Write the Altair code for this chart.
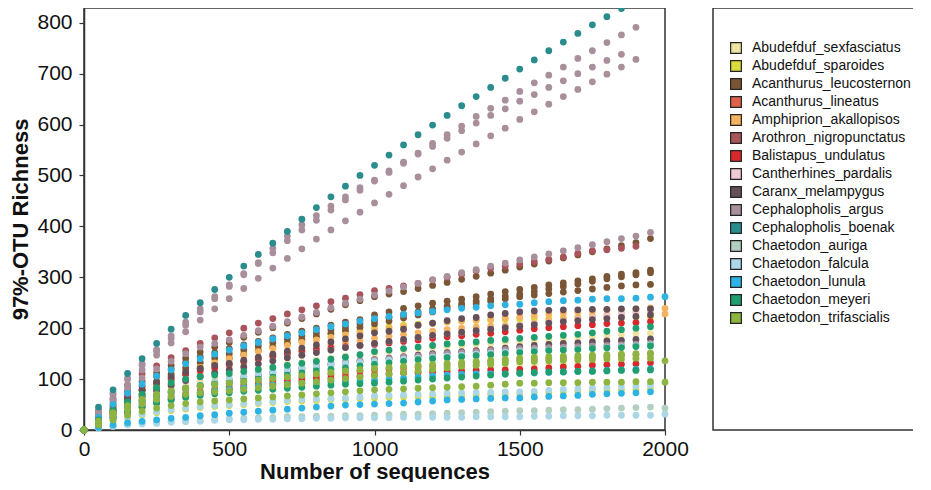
import altair as alt
import pandas as pd

species = [
    "Abudefduf_sexfasciatus", "Abudefduf_sparoides", "Acanthurus_leucosternon",
    "Acanthurus_lineatus", "Amphiprion_akallopisos", "Arothron_nigropunctatus",
    "Balistapus_undulatus", "Cantherhines_pardalis", "Caranx_melampygus",
    "Cephalopholis_argus", "Cephalopholis_boenak", "Chaetodon_auriga",
    "Chaetodon_falcula", "Chaetodon_lunula", "Chaetodon_meyeri", "Chaetodon_trifascialis",
]
colors = [
    "#EFE2A2", "#DADA3C", "#7A5636", "#E0624B", "#F5B261", "#A9535B",
    "#D9282C", "#EFCAD3", "#65505A", "#A88F9B", "#2A8C8D", "#B3CFBF",
    "#AAD6E6", "#2CB3E2", "#1F9E6F", "#8DB440",
]

depths = [0, 50, 100, 150, 200, 250, 300, 350, 400, 450, 500, 550, 600, 650, 700,
          750, 800, 850, 900, 950, 1000, 1050, 1100, 1150, 1200, 1250, 1300, 1350,
          1400, 1450, 1500, 1550, 1600, 1650, 1700, 1750, 1800, 1850, 1900, 1950, 2000]

# rarefaction curves: richness at successive depths
sexfasciatus_1 = [0, 15, 30, 44, 57, 68, 78, 87, 95, 102, 108, 114, 119, 124, 129, 133, 137, 141, 145, 148, 151, 154, 157, 160, 162, 164, 166, 168, 170, 172, 174, 175, 177, 179, 181, 183, 185, 187, 189, 190]
sexfasciatus_2 = [0, 12, 24, 35, 45, 54, 62, 69, 75, 80, 85, 89, 93, 97, 100, 103, 106, 109, 111, 113, 115, 117, 119, 121, 123, 124, 125, 126, 127, 128, 129, 130, 131, 132, 133, 134, 136, 137, 138, 140]
sparoides_1 = [0, 20, 40, 60, 78, 95, 108, 118, 127, 136, 144, 152, 160, 166, 172, 178, 183, 188, 192, 196, 200, 203, 206, 208, 210, 212, 214, 215, 216, 217, 218, 219, 219, 220, 220, 221, 221, 222, 222, 222]
sparoides_2 = [0, 8, 16, 23, 29, 34, 38, 41, 44, 46, 48, 50, 52, 54, 56, 57, 58, 60, 61, 62, 63, 64, 65, 66, 66, 67, 68, 69, 70, 71, 72, 73, 74, 75, 76, 77, 78, 79, 80, 81]
leucosternon_1 = [0, 28, 54, 76, 95, 112, 127, 141, 153, 163, 172, 182, 192, 201, 210, 219, 228, 237, 246, 254, 262, 267, 272, 278, 284, 290, 296, 302, 308, 314, 320, 326, 332, 338, 344, 350, 356, 362, 368, 376]
leucosternon_2 = [0, 22, 45, 66, 86, 105, 120, 133, 144, 152, 160, 167, 174, 181, 188, 194, 200, 206, 212, 217, 226, 232, 239, 244, 249, 253, 257, 262, 267, 272, 276, 280, 285, 289, 293, 297, 302, 306, 309, 314]
leucosternon_3 = [0, 20, 40, 60, 78, 95, 110, 122, 133, 142, 150, 158, 165, 172, 179, 185, 191, 197, 203, 209, 215, 221, 227, 232, 238, 243, 248, 253, 258, 263, 267, 272, 277, 282, 287, 292, 297, 301, 305, 309]
leucosternon_4 = [0, 18, 36, 54, 70, 85, 98, 110, 121, 131, 140, 148, 156, 163, 170, 177, 184, 190, 196, 202, 208, 214, 220, 226, 232, 238, 243, 248, 253, 258, 262, 265, 268, 271, 274, 277, 280, 283, 285, 286]
lineatus_1 = [0, 14, 27, 39, 50, 59, 66, 72, 77, 81, 85, 89, 93, 97, 100, 103, 106, 109, 112, 115, 118, 120, 122, 124, 126, 128, 130, 132, 134, 136, 138, 139, 140, 141, 142, 144, 145, 147, 148, 150]
akallopisos_1 = [0, 18, 36, 55, 72, 88, 101, 113, 123, 132, 140, 147, 154, 160, 166, 172, 177, 182, 187, 191, 195, 199, 203, 206, 209, 212, 214, 216, 218, 220, 222, 225, 228, 230, 232, 234, 236, 237, 238, 240, 239]
akallopisos_2 = [0, 16, 32, 49, 64, 78, 90, 101, 110, 118, 125, 132, 139, 145, 151, 157, 162, 167, 172, 176, 180, 184, 188, 191, 194, 197, 200, 202, 204, 205, 206, 210, 215, 218, 221, 224, 226, 229, 232, 232, 228]
nigropunctatus_1 = [0, 35, 62, 88, 110, 126, 142, 156, 170, 181, 191, 200, 210, 219, 228, 236, 244, 252, 259, 266, 274, 278, 283, 288, 295, 300, 306, 313, 318, 322, 326, 331, 335, 340, 347, 352, 354, 357, 361]
undulatus_1 = [0, 25, 48, 66, 80, 92, 102, 110, 117, 123, 129, 135, 140, 145, 150, 154, 158, 161, 164, 166, 168, 171, 174, 177, 180, 183, 185, 188, 190, 193, 196, 199, 201, 203, 205, 207, 209, 210, 211, 213]
undulatus_2 = [0, 12, 24, 35, 45, 53, 60, 66, 71, 76, 80, 84, 88, 91, 94, 97, 100, 102, 104, 106, 108, 110, 112, 113, 114, 115, 116, 117, 118, 118, 119, 120, 122, 124, 125, 127, 128, 129, 130, 132]
pardalis_1 = [0, 15, 30, 45, 59, 72, 84, 95, 104, 111, 118, 124, 130, 136, 142, 147, 152, 157, 162, 166, 170, 174, 178, 182, 186, 189, 192, 195, 199, 202, 205, 208, 211, 214, 217, 220, 224, 227, 230, 234]
melampygus_1 = [0, 20, 40, 60, 78, 93, 105, 114, 121, 127, 131, 137, 143, 149, 155, 161, 167, 173, 179, 185, 191, 194, 198, 206, 210, 215, 219, 221, 226, 229, 232, 234, 235, 236, 236, 237, 237, 238, 238, 238]
melampygus_2 = [0, 18, 36, 52, 66, 78, 88, 97, 105, 112, 118, 124, 130, 136, 142, 147, 152, 157, 162, 166, 170, 174, 178, 182, 186, 189, 192, 195, 198, 201, 204, 207, 210, 213, 215, 217, 219, 221, 223, 226]
melampygus_3 = [0, 15, 30, 44, 56, 66, 74, 81, 87, 92, 97, 102, 107, 112, 116, 120, 124, 128, 131, 135, 138, 141, 144, 147, 150, 152, 154, 156, 158, 161, 164, 166, 168, 170, 171, 173, 175, 176, 178, 179]
argus_1 = [0, 40, 72, 102, 130, 158, 185, 212, 238, 262, 285, 307, 329, 357, 381, 403, 421, 440, 458, 476, 491, 509, 526, 544, 563, 580, 597, 616, 632, 648, 665, 682, 697, 713, 730, 745, 761, 776, 791]
argus_2 = [0, 38, 69, 99, 127, 154, 180, 206, 232, 258, 282, 305, 327, 348, 372, 393, 412, 432, 452, 471, 489, 506, 524, 542, 557, 573, 588, 603, 618, 631, 646, 659, 673, 686, 700, 713, 726, 738]
argus_3 = [0, 30, 60, 88, 118, 147, 171, 193, 216, 238, 258, 278, 298, 318, 337, 356, 375, 393, 411, 428, 446, 463, 480, 497, 513, 530, 546, 562, 578, 593, 610, 625, 640, 655, 669, 684, 699, 713, 728]
argus_4 = [0, 30, 58, 82, 102, 120, 135, 150, 163, 170, 177, 186, 195, 204, 213, 222, 231, 240, 249, 257, 265, 273, 281, 288, 295, 302, 309, 315, 322, 328, 334, 340, 346, 352, 358, 364, 370, 376, 381, 388]
argus_5 = [0, 14, 28, 41, 53, 63, 72, 80, 87, 94, 100, 105, 110, 115, 119, 123, 127, 131, 134, 136, 138, 140, 143, 145, 148, 150, 152, 154, 156, 158, 160, 161, 162, 163, 164, 165, 166, 167, 168, 170]
boenak_1 = [0, 45, 79, 111, 140, 170, 198, 225, 250, 276, 300, 322, 345, 367, 390, 414, 437, 458, 479, 500, 520, 540, 560, 580, 599, 618, 637, 655, 673, 691, 709, 727, 745, 762, 779, 796, 812, 828]
auriga_1 = [0, 4, 8, 11, 13, 15, 17, 18, 19, 21, 22, 23, 24, 25, 26, 26, 27, 27, 28, 28, 29, 30, 31, 31, 32, 33, 34, 35, 36, 37, 38, 38, 39, 40, 40, 41, 42, 43, 44, 45, 43]
falcula_1 = [0, 4, 7, 10, 12, 13, 15, 16, 17, 19, 20, 20, 21, 21, 22, 22, 23, 23, 24, 24, 24, 24, 25, 25, 25, 25, 25, 26, 26, 26, 26, 27, 27, 28, 28, 28, 29, 29, 29, 29, 31]
falcula_2 = [0, 10, 18, 25, 31, 36, 40, 43, 46, 48, 50, 52, 54, 56, 58, 60, 61, 62, 63, 65, 67, 68, 69, 70, 71, 72, 73, 74, 74, 75, 75, 76, 78, 80, 81, 82, 84, 85, 86, 88]
falcula_3 = [0, 14, 28, 42, 55, 66, 75, 82, 88, 94, 100, 105, 110, 114, 118, 122, 125, 128, 131, 133, 135, 137, 139, 141, 143, 145, 147, 149, 151, 153, 155, 156, 157, 158, 159, 160, 162, 164, 165, 167]
lunula_1 = [0, 25, 50, 72, 90, 106, 118, 130, 140, 149, 157, 165, 172, 179, 185, 191, 197, 203, 208, 214, 219, 223, 227, 230, 233, 236, 239, 241, 244, 246, 247, 250, 252, 254, 255, 257, 258, 258, 259, 261, 262]
lunula_2 = [0, 5, 10, 14, 17, 20, 23, 25, 28, 30, 33, 35, 37, 39, 41, 43, 45, 47, 49, 50, 51, 52, 53, 55, 57, 59, 60, 61, 62, 63, 63, 65, 66, 67, 68, 70, 71, 72, 73, 75]
lunula_3 = [0, 12, 24, 36, 46, 55, 62, 68, 73, 77, 80, 83, 86, 88, 90, 92, 94, 95, 96, 97, 98, 100, 102, 104, 106, 108, 109, 110, 110, 110, 111, 112, 113, 114, 115, 116, 117, 118, 119, 120]
meyeri_1 = [0, 20, 38, 55, 70, 83, 93, 100, 105, 108, 111, 115, 119, 123, 127, 131, 135, 139, 143, 148, 154, 157, 160, 163, 166, 169, 171, 173, 176, 178, 180, 182, 184, 186, 188, 191, 194, 197, 200, 203]
meyeri_2 = [0, 12, 24, 35, 45, 53, 59, 64, 68, 71, 73, 76, 78, 80, 82, 84, 86, 88, 90, 91, 92, 94, 96, 98, 100, 102, 104, 106, 108, 110, 112, 113, 114, 114, 115, 115, 116, 117, 117, 118]
meyeri_3 = [0, 16, 32, 46, 58, 68, 76, 82, 87, 90, 92, 96, 100, 104, 108, 112, 116, 119, 122, 126, 129, 132, 135, 138, 140, 142, 144, 146, 148, 150, 152, 154, 156, 157, 158, 160, 161, 162, 164, 165]
trifascialis_1 = [0, 14, 28, 40, 51, 60, 66, 70, 73, 75, 77, 80, 83, 86, 89, 92, 95, 98, 101, 104, 107, 110, 113, 116, 119, 122, 125, 127, 129, 131, 134, 135, 136, 137, 138, 139, 140, 140, 141, 141, 136]
trifascialis_2 = [0, 10, 20, 29, 37, 43, 48, 52, 55, 57, 59, 61, 63, 65, 67, 69, 71, 73, 75, 77, 79, 80, 81, 82, 83, 84, 85, 86, 88, 90, 92, 92, 93, 93, 93, 94, 94, 94, 95, 95, 94]
trifascialis_3 = [0, 18, 34, 48, 60, 70, 77, 82, 86, 89, 92, 95, 98, 101, 104, 107, 110, 113, 116, 119, 121, 123, 125, 127, 129, 131, 133, 135, 137, 139, 141, 143, 144, 145, 146, 147, 148, 149, 150, 151]

curves = [
    ("Abudefduf_sexfasciatus", sexfasciatus_1), ("Abudefduf_sexfasciatus", sexfasciatus_2),
    ("Abudefduf_sparoides", sparoides_1), ("Abudefduf_sparoides", sparoides_2),
    ("Acanthurus_leucosternon", leucosternon_1), ("Acanthurus_leucosternon", leucosternon_2),
    ("Acanthurus_leucosternon", leucosternon_3), ("Acanthurus_leucosternon", leucosternon_4),
    ("Acanthurus_lineatus", lineatus_1),
    ("Amphiprion_akallopisos", akallopisos_1), ("Amphiprion_akallopisos", akallopisos_2),
    ("Arothron_nigropunctatus", nigropunctatus_1),
    ("Balistapus_undulatus", undulatus_1), ("Balistapus_undulatus", undulatus_2),
    ("Cantherhines_pardalis", pardalis_1),
    ("Caranx_melampygus", melampygus_1), ("Caranx_melampygus", melampygus_2),
    ("Caranx_melampygus", melampygus_3),
    ("Cephalopholis_argus", argus_1), ("Cephalopholis_argus", argus_2),
    ("Cephalopholis_argus", argus_3), ("Cephalopholis_argus", argus_4),
    ("Cephalopholis_argus", argus_5),
    ("Cephalopholis_boenak", boenak_1),
    ("Chaetodon_auriga", auriga_1),
    ("Chaetodon_falcula", falcula_1), ("Chaetodon_falcula", falcula_2),
    ("Chaetodon_falcula", falcula_3),
    ("Chaetodon_lunula", lunula_1), ("Chaetodon_lunula", lunula_2), ("Chaetodon_lunula", lunula_3),
    ("Chaetodon_meyeri", meyeri_1), ("Chaetodon_meyeri", meyeri_2), ("Chaetodon_meyeri", meyeri_3),
    ("Chaetodon_trifascialis", trifascialis_1), ("Chaetodon_trifascialis", trifascialis_2),
    ("Chaetodon_trifascialis", trifascialis_3),
]

rows = []
for cid, (sp, vals) in enumerate(curves):
    for d, v in zip(depths, vals):
        rows.append({"species": sp, "curve": cid, "depth": d, "richness": v})
df = pd.DataFrame(rows)

FONT = "Liberation Sans"

points = alt.Chart(df).mark_point(filled=True, size=46, opacity=1).encode(
    x=alt.X("depth:Q", scale=alt.Scale(domain=[0, 2000], nice=False),
            axis=alt.Axis(values=[0, 500, 1000, 1500, 2000], format="d",
                          title="Number of sequences", labelFlush=False,
                          grid=False, labelPadding=3, titlePadding=2)),
    y=alt.Y("richness:Q", scale=alt.Scale(domain=[0, 829], nice=False),
            axis=alt.Axis(values=[0, 100, 200, 300, 400, 500, 600, 700, 800], format="d",
                          labelFlush=False, title="97%-OTU Richness", grid=False,
                          labelPadding=7, titlePadding=4)),
    color=alt.Color("species:N", title=None,
                    scale=alt.Scale(domain=species, range=colors),
                    legend=alt.Legend(orient="none", legendX=645, legendY=33,
                                      symbolType="square", symbolSize=115,
                                      symbolStrokeColor="#222", symbolStrokeWidth=1.2,
                                      symbolOpacity=1, labelFont=FONT, labelFontSize=14,
                                      labelColor="#111", labelOffset=9, rowPadding=2,
                                      padding=0, labelLimit=300)),
)

box = alt.Chart(pd.DataFrame({"k": [0]})).mark_rect(
    filled=False, stroke="#333", strokeWidth=1.5, clip=False
).encode(x=alt.value(629), x2=alt.value(1000), y=alt.value(0), y2=alt.value(422))

chart = alt.layer(box, points).properties(
    width=581, height=422,
    padding={"left": 76, "top": 0, "right": 248, "bottom": 52},
    autosize=alt.AutoSizeParams(type="none"),
).configure_view(
    stroke="#333", strokeWidth=1.5
).configure_axis(
    domainColor="#333", domainWidth=1.5, tickColor="#333", tickSize=5, tickWidth=1.2,
    labelFont=FONT, labelFontSize=21, labelColor="#111",
    titleFont=FONT, titleFontSize=22, titleFontWeight="bold", titleColor="#111",
)

chart.save("out.html", embed_options={"renderer": "svg", "actions": False})
